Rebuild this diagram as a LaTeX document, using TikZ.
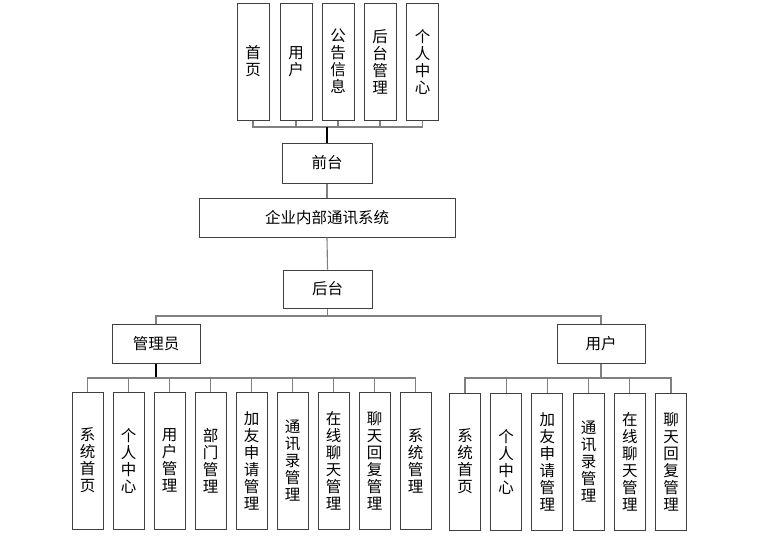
\documentclass[tikz,border=0pt]{standalone}
\usepackage{fontspec}
\setmainfont{Noto Sans CJK SC}
\definecolor{boxc}{RGB}{64,64,64}
\definecolor{linec}{RGB}{128,128,128}
\begin{document}
\begin{tikzpicture}[x=1pt,y=-1pt,
  box/.style={draw=boxc, line width=1pt, fill=white, inner sep=0pt, align=center, font=\fontsize{15.5}{17}\selectfont},
  tall/.style={box, minimum width=32pt, minimum height=117pt},
  low/.style={box, minimum width=31pt, minimum height=137pt},
  link/.style={draw=linec, line width=1.1pt},
  stem/.style={draw=black, line width=1.5pt}]
\useasboundingbox[fill=white] (0,0) rectangle (761,539);
% top
\node[tall] (t1) at (253,61.5) {首\\页};
\node[tall] (t2) at (296,61.5) {用\\户};
\node[tall] (t3) at (338,61.5) {公\\告\\信\\息};
\node[tall] (t4) at (380,61.5) {后\\台\\管\\理};
\node[tall] (t5) at (422.5,61.5) {个\\人\\中\\心};
\node[box, minimum width=90pt, minimum height=40pt] (qt) at (327,163) {前台};
\node[box, minimum width=256pt, minimum height=39pt] (sys) at (327,217.5) {企业内部通讯系统};
\node[box, minimum width=89pt, minimum height=38pt] (ht) at (327.5,289) {后台};
\node[box, minimum width=88pt, minimum height=39pt] (adm) at (156,343.5) {管理员};
\node[box, minimum width=88pt, minimum height=39pt] (usr) at (601,343.5) {用户};
% admin children
\node[low] (a1) at (87.5,460.5) {系\\统\\首\\页};
\node[low] (a2) at (128.5,460.5) {个\\人\\中\\心};
\node[low] (a3) at (169.5,460.5) {用\\户\\管\\理};
\node[low] (a4) at (210.5,460.5) {部\\门\\管\\理};
\node[low] (a5) at (251.5,460.5) {加\\友\\申\\请\\管\\理};
\node[low] (a6) at (292.5,460.5) {通\\讯\\录\\管\\理};
\node[low] (a7) at (333.5,460.5) {在\\线\\聊\\天\\管\\理};
\node[low] (a8) at (374.5,460.5) {聊\\天\\回\\复\\管\\理};
\node[low] (a9) at (415.5,460.5) {系\\统\\管\\理};
% user children
\node[low] (u1) at (465,461.5) {系\\统\\首\\页};
\node[low] (u2) at (506.2,461.5) {个\\人\\中\\心};
\node[low] (u3) at (547.4,461.5) {加\\友\\申\\请\\管\\理};
\node[low] (u4) at (588.6,461.5) {通\\讯\\录\\管\\理};
\node[low] (u5) at (629.8,461.5) {在\\线\\聊\\天\\管\\理};
\node[low] (u6) at (671,461.5) {聊\\天\\回\\复\\管\\理};
% connectors
\coordinate (busT) at (327,127);
\foreach \n in {t1,t2,t3,t4,t5} \draw[link] (\n.south) |- (busT);
\draw[stem] (busT) -- (qt.north);
\draw[link] (qt.south) -- (sys.north);
\draw[link] (sys.south) -- (ht.north);
\coordinate (busM) at (327.5,316);
\draw[link] (ht.south) -- (busM);
\draw[link] (busM) -| (adm.north);
\draw[link] (busM) -| (usr.north);
\coordinate (busA) at (156,378);
\draw[stem] (adm.south) -- (busA);
\foreach \n in {a1,a2,a3,a4,a5,a6,a7,a8,a9} \draw[link] (busA) -| (\n.north);
\coordinate (busU) at (601,378);
\draw[link] (usr.south) -- (busU);
\foreach \n in {u1,u2,u3,u4,u5,u6} \draw[link] (busU) -| (\n.north);
\end{tikzpicture}
\end{document}
